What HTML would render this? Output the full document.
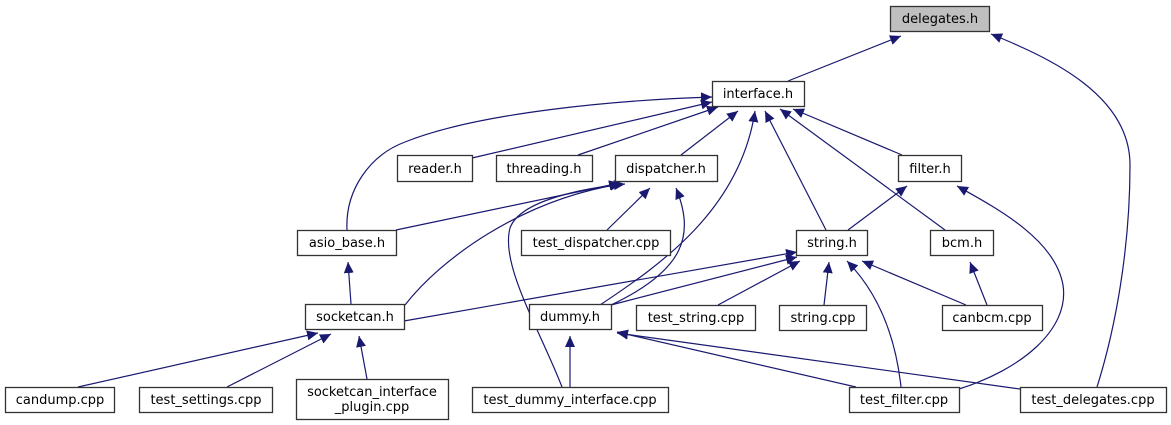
<!DOCTYPE html>
<html><head><meta charset="utf-8"><style>
html,body{margin:0;padding:0;background:#fff;}
svg{display:block;}
text{font-family:"DejaVu Sans","Liberation Sans",sans-serif;font-size:13px;fill:#000;}
</style></head><body>
<svg width="1171" height="425" viewBox="0 0 1171 425" xmlns="http://www.w3.org/2000/svg">
<defs>
<marker id="a" markerWidth="12" markerHeight="10" refX="11" refY="5" orient="auto" markerUnits="userSpaceOnUse">
<path d="M0,0 L11,5 L0,10 Z" fill="#191970"/>
</marker>
</defs>
<g fill="none" stroke="#191970" stroke-width="1.2" marker-end="url(#a)">
<path d="M788,81 L901,36"/>
<path d="M1097,387 C1115,330 1130,250 1130,165 C1130,95 1050,58 991,34"/>
<path d="M347,230 C345,190 370,155 405,142 C480,112 620,100 712,97"/>
<path d="M472,158 L712,102"/>
<path d="M578,155 L718,107"/>
<path d="M681,155 L738,111"/>
<path d="M600,305 C660,265 740,210 755,111"/>
<path d="M826,230 L765,111"/>
<path d="M945,230 L780,109"/>
<path d="M902,155 L793,109"/>
<path d="M396,230 L620,183"/>
<path d="M405,305 C440,260 520,200 621,184"/>
<path d="M562,387 C540,330 500,265 510,228 C520,200 585,188 625,184"/>
<path d="M607,230 L650,188"/>
<path d="M611,305 C685,270 695,235 676,188"/>
<path d="M351,304 L348,262"/>
<path d="M848,230 L907,186"/>
<path d="M959,389 C1020,370 1070,330 1063,285 C1055,240 1000,210 957,186"/>
<path d="M404,321 L797,252"/>
<path d="M611,305 L797,257"/>
<path d="M718,305 L800,261"/>
<path d="M824,305 L829,262"/>
<path d="M901,387 C897,350 885,300 847,261"/>
<path d="M966,305 L862,261"/>
<path d="M987,305 L970,262"/>
<path d="M78,387 L318,333"/>
<path d="M227,387 L331,334"/>
<path d="M367,379 L359,336"/>
<path d="M570,387 L570,336"/>
<path d="M856,387 L617,332"/>
<path d="M1020,389 L617,333"/>
</g>
<g stroke="#333" stroke-width="1.3" fill="#fff">
<rect x="890.5" y="6.5" width="99" height="25" fill="#bfbfbf"/>
<rect x="712.5" y="81.5" width="92" height="25"/>
<rect x="397.5" y="155.5" width="75" height="26"/>
<rect x="496.5" y="155.5" width="96" height="26"/>
<rect x="615.5" y="155.5" width="102" height="26"/>
<rect x="898.5" y="155.5" width="63" height="26"/>
<rect x="297.5" y="230.5" width="99" height="25"/>
<rect x="521.5" y="230.5" width="149" height="25"/>
<rect x="796.5" y="230.5" width="71" height="25"/>
<rect x="930.5" y="230.5" width="63" height="25"/>
<rect x="305.5" y="304.5" width="99" height="25"/>
<rect x="529.5" y="304.5" width="82" height="25"/>
<rect x="636.5" y="305.5" width="119" height="25"/>
<rect x="779.5" y="305.5" width="87" height="25"/>
<rect x="942.5" y="305.5" width="100" height="25"/>
<rect x="5.5" y="387.5" width="109" height="25"/>
<rect x="139.5" y="387.5" width="133" height="25"/>
<rect x="296.5" y="379.5" width="152" height="40"/>
<rect x="472.5" y="387.5" width="196" height="25"/>
<rect x="849.5" y="387.5" width="110" height="25"/>
<rect x="1020.5" y="387.5" width="146" height="25"/>
</g>
<g text-anchor="middle">
<text x="940" y="23">delegates.h</text>
<text x="758" y="98">interface.h</text>
<text x="435" y="173">reader.h</text>
<text x="544" y="173">threading.h</text>
<text x="666" y="173">dispatcher.h</text>
<text x="930" y="173">filter.h</text>
<text x="347" y="247">asio_base.h</text>
<text x="596" y="247">test_dispatcher.cpp</text>
<text x="832" y="247">string.h</text>
<text x="962" y="247">bcm.h</text>
<text x="355" y="321">socketcan.h</text>
<text x="570" y="321">dummy.h</text>
<text x="696" y="322">test_string.cpp</text>
<text x="823" y="322">string.cpp</text>
<text x="992" y="322">canbcm.cpp</text>
<text x="60" y="404">candump.cpp</text>
<text x="206" y="404">test_settings.cpp</text>
<text x="372" y="396">socketcan_interface</text>
<text x="372" y="411">_plugin.cpp</text>
<text x="570" y="404">test_dummy_interface.cpp</text>
<text x="904" y="404">test_filter.cpp</text>
<text x="1093" y="404">test_delegates.cpp</text>
</g>
</svg>
</body></html>
